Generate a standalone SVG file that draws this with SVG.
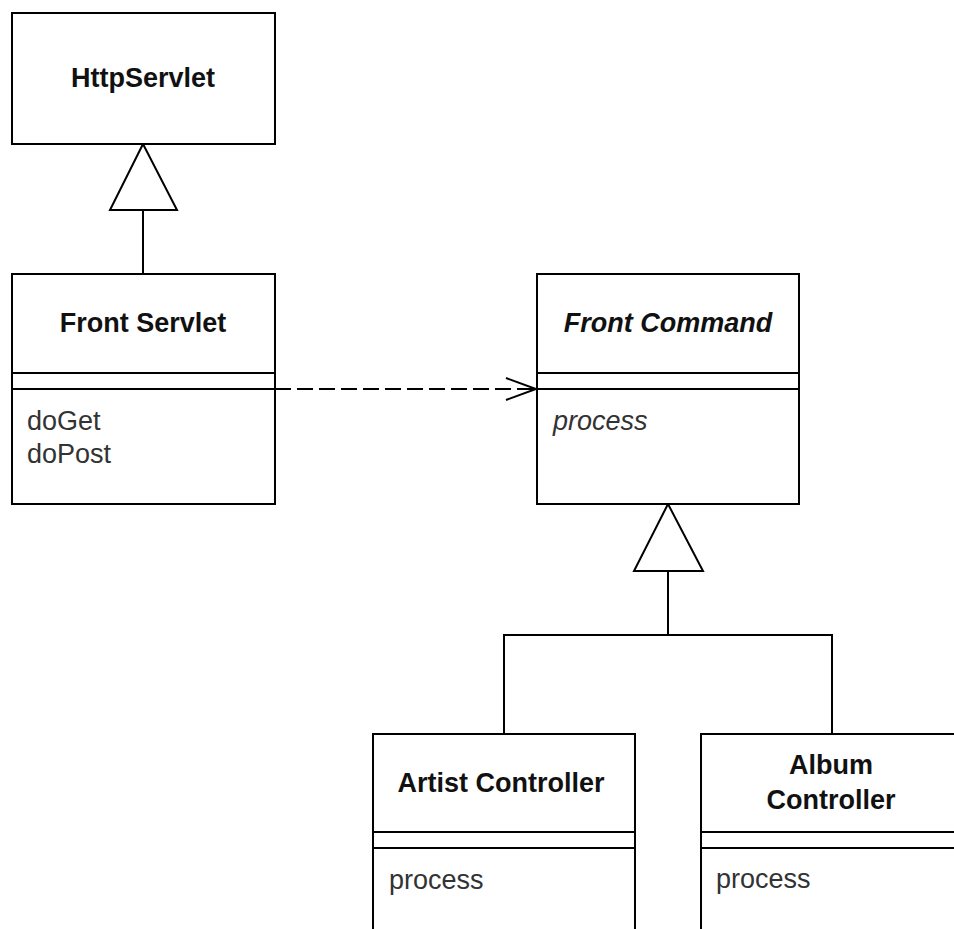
<svg xmlns="http://www.w3.org/2000/svg" width="954" height="929" viewBox="0 0 954 929">
<style>
.box{fill:#fff;stroke:#000;stroke-width:2}
.ln{fill:none;stroke:#000;stroke-width:2}
.name{font-family:"Liberation Sans",Arial,sans-serif;font-size:27px;font-weight:bold;fill:#111;text-anchor:middle}
.op{font-family:"Liberation Sans",Arial,sans-serif;font-size:27px;fill:#333}
.it{font-style:italic}
.tri{fill:#fff;stroke:#000;stroke-width:2;stroke-linejoin:miter}
</style>
<rect width="954" height="929" fill="#fff"/>
<g id="connectors">
<line class="ln" x1="143" y1="210" x2="143" y2="274"/>
<polygon class="tri" points="143,144 110,210 177,210"/>
<line class="ln" x1="275" y1="389" x2="535" y2="389" stroke-dasharray="16,6"/>
<polyline class="ln" points="506,378 536,389 506,400"/>
<polyline class="ln" points="668,571 668,635"/>
<polyline class="ln" points="504,734 504,635 832,635 832,734"/>
<polygon class="tri" points="668,504 634,571 703,571"/>
</g>
<g id="HttpServlet">
<rect class="box" x="12" y="13" width="263" height="131"/>
<text class="name" x="143" y="87">HttpServlet</text>
</g>
<g id="FrontServlet">
<rect class="box" x="12" y="274" width="263" height="230"/>
<line class="ln" x1="12" y1="373" x2="275" y2="373"/>
<line class="ln" x1="12" y1="389" x2="275" y2="389"/>
<text class="name" x="143" y="332">Front Servlet</text>
<text class="op" x="27" y="430">doGet</text>
<text class="op" x="27" y="463">doPost</text>
</g>
<g id="FrontCommand">
<rect class="box" x="537" y="274" width="262" height="230"/>
<line class="ln" x1="537" y1="373" x2="799" y2="373"/>
<line class="ln" x1="537" y1="389" x2="799" y2="389"/>
<text class="name it" x="668" y="332">Front Command</text>
<text class="op it" x="553" y="430">process</text>
</g>
<g id="ArtistController">
<rect class="box" x="373" y="734" width="262" height="210"/>
<line class="ln" x1="373" y1="832" x2="635" y2="832"/>
<line class="ln" x1="373" y1="848" x2="635" y2="848"/>
<text class="name" x="501" y="792">Artist Controller</text>
<text class="op" x="389" y="889">process</text>
</g>
<g id="AlbumController">
<rect class="box" x="701" y="734" width="262" height="210"/>
<line class="ln" x1="701" y1="832" x2="963" y2="832"/>
<line class="ln" x1="701" y1="848" x2="963" y2="848"/>
<text class="name" x="831" y="774">Album</text>
<text class="name" x="831" y="809">Controller</text>
<text class="op" x="716" y="888">process</text>
</g>
</svg>
